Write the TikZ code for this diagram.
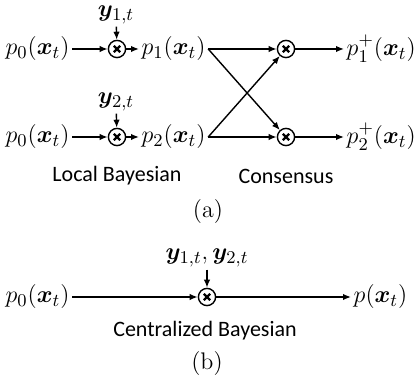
\documentclass[tikz,border=0pt]{standalone}
\usepackage{amsmath,bm}
\usepackage{fontspec}
\setsansfont{Carlito}
\usetikzlibrary{arrows.meta}
\begin{document}
\begin{tikzpicture}[x=0.5pt, y=-0.5pt, >={Latex[length=4pt,width=3.2pt]}, line width=0.7pt,
  dist/.style={inner sep=1pt, font=\fontsize{12.5}{15}\selectfont},
  obs/.style={inner sep=1pt, font=\fontsize{12.5}{15}\selectfont},
  mult/.style={draw, circle, inner sep=0pt, minimum size=8.6pt,
    path picture={\draw[line width=1.1pt] ([shift={(-1.6pt,-1.6pt)}]path picture bounding box.center) -- ++(3.2pt,3.2pt)
      ([shift={(-1.6pt,1.6pt)}]path picture bounding box.center) -- ++(3.2pt,-3.2pt);}},
  caption/.style={font=\fontsize{11}{13}\selectfont\sffamily}]
\useasboundingbox (0,0) rectangle (416,383);
% (a) local Bayesian and consensus
\node[dist, anchor=west] (prior1) at (3,49) {$p_0(\bm{x}_t)$};
\node[dist, anchor=west] (prior2) at (3,137) {$p_0(\bm{x}_t)$};
\node[mult] (bayes1) at (117,49) {};
\node[mult] (bayes2) at (117,137) {};
\node[obs] (obs1) at (116,15) {$\bm{y}_{1,t}$};
\node[obs] (obs2) at (116,102) {$\bm{y}_{2,t}$};
\node[dist, anchor=west] (post1) at (139,49) {$p_1(\bm{x}_t)$};
\node[dist, anchor=west] (post2) at (139,137) {$p_2(\bm{x}_t)$};
\node[mult] (cons1) at (286,49) {};
\node[mult] (cons2) at (286,137) {};
\node[dist, anchor=west] (fused1) at (344,49) {$p_1^{+}(\bm{x}_t)$};
\node[dist, anchor=west] (fused2) at (344,137) {$p_2^{+}(\bm{x}_t)$};
\draw[->] (prior1) -- (bayes1);
\draw[->] (prior2) -- (bayes2);
\draw[->] (obs1) -- (bayes1);
\draw[->] (obs2) -- (bayes2);
\draw[->] (bayes1) -- (post1);
\draw[->] (bayes2) -- (post2);
\draw[->] (post1) -- (cons1);
\draw[->] (post2) -- (cons2);
\draw[->] (post1.east) -- (cons2);
\draw[->] (post2.east) -- (cons1);
\draw[->] (cons1) -- (fused1);
\draw[->] (cons2) -- (fused2);
\node[caption] (local) at (117,176) {Local Bayesian};
\node[caption] (consensus) at (286,176) {Consensus};
\node[font=\fontsize{12}{14}\selectfont] (capa) at (208,212) {(a)};
% (b) centralized Bayesian
\node[dist, anchor=west] (prior) at (3,297) {$p_0(\bm{x}_t)$};
\node[mult] (central) at (207,297) {};
\node[obs] (obsall) at (207,258) {$\bm{y}_{1,t},\bm{y}_{2,t}$};
\node[dist, anchor=west] (post) at (351,297) {$p(\bm{x}_t)$};
\draw[->] (prior) -- (central);
\draw[->] (obsall) -- (central);
\draw[->] (central) -- (post);
\node[caption] (centralized) at (205,331) {Centralized Bayesian};
\node[font=\fontsize{12}{14}\selectfont] (capb) at (207,364) {(b)};
\end{tikzpicture}
\end{document}
